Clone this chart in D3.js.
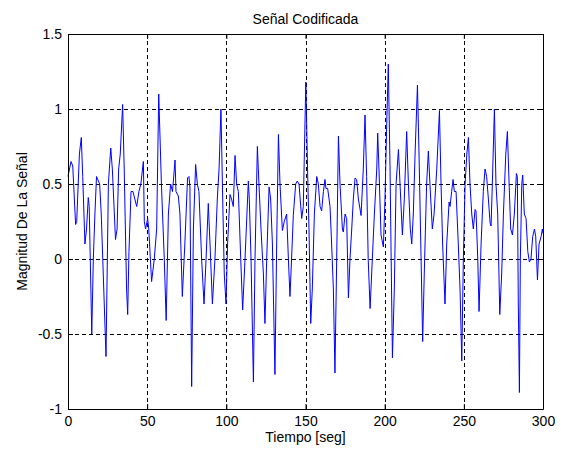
<!DOCTYPE html>
<html>
<head>
<meta charset="utf-8">
<script src="https://cdn.jsdelivr.net/npm/d3@7"></script>
<style>
  body { margin: 0; background: #fff; }
  text { font-family: "Liberation Sans", Arial, sans-serif; }
</style>
</head>
<body>
<div id="chart"></div>
<script>
// readings (time in seg, magnitude)
const tiempo = [0, 1.9, 3, 4.8, 5.5, 7.2, 8.4, 9.3, 10.7, 11.7, 12.8, 13.4, 15, 16, 17, 18, 20, 21, 24, 25.5, 27, 28, 30, 31, 32, 33, 34.5,
  35.5, 37, 37.7, 38.5, 39.8, 41, 43.4, 44.8, 46, 47.6, 48.2, 49, 50.3, 51, 52.8, 54.5, 56, 57.3, 59, 60.8, 62, 63.4, 64.8, 66, 67.6,
  68.2, 69.7, 70.7, 72.2, 73.8, 75.5, 76.4, 77, 78.1, 79.2, 80.6, 81.7, 82.7, 84.4, 85.9, 87.2, 88.6, 89.7, 91.2, 92.8, 94.3, 95.4,
  96.6, 97.7, 98.7, 99.8, 100.8, 102.3, 103.3, 104.4, 105.5, 106.5, 107.6, 109.1, 110.3, 111.8, 113.9, 114.5, 115.6, 117.1, 118.1,
  119.6, 120.6, 121.9, 123.4, 124.4, 125.5, 127, 128, 129.1, 130.7, 131.8, 132.9, 133.9, 135.4, 136.6, 138.1, 139.2, 140.2, 141.2,
  142.3, 143.8, 144.8, 145.9, 147.6, 148.6, 150.2, 151.3, 152.2, 153.3, 154.3, 155.6, 157.1, 158.1, 159.2, 160.2, 161.3, 162.3,
  162.9, 164, 165.5, 166.5, 167.6, 168.6, 169.7, 170.8, 171.8, 173.3, 173.9, 175, 176, 177.1, 178.1, 179.2, 180.2, 181.3, 182.3,
  183.4, 185.1, 186.5, 187.6, 188.6, 189.6, 190.8, 192.2, 193.5, 195, 195.6, 196.4, 197.7, 199.2, 200.2, 201.3, 202.3, 203.4,
  204.1, 204.9, 206.1, 207.2, 208.7, 209.7, 211.2, 212.4, 213.9, 215, 216.2, 217.1, 218.1, 219.2, 220.7, 221.7, 223, 224, 225,
  226.5, 227.6, 228.6, 230.1, 231.2, 232.9, 234.6, 235.6, 236.6, 238.1, 239.2, 240.7, 241.3, 242.3, 243.2, 244, 245.1, 246.5,
  247.6, 248.7, 249.7, 250.8, 251.9, 252.9, 253.9, 255, 256, 257.1, 257.7, 258.8, 259.6, 260.9, 262.3, 263.4, 264.4, 265.5, 266.6,
  267.2, 268, 269.3, 270.3, 271.4, 272.7, 273.9, 275, 276.5, 277.5, 278.6, 279.6, 280.7, 281.9, 283.2, 283.8, 284.4, 285.1, 285.7,
  286.6, 287.2, 288.2, 289.3, 290.4, 291.4, 292.4, 293.5, 294.6, 295.4, 296.5, 297.5, 298.8, 299.6, 300];
const magnitud = [0.55, 0.65, 0.62, 0.23, 0.25, 0.7, 0.81, 0.55, 0.1, 0.2, 0.41, 0.35, -0.5, 0.0, 0.3, 0.55, 0.5, 0.3, -0.65, 0.5, 0.74,
  0.6, 0.13, 0.2, 0.6, 0.7, 1.03, 0.6, -0.2, -0.37, 0.05, 0.45, 0.45, 0.35, 0.45, 0.5, 0.65, 0.25, 0.2, 0.27, 0.2, -0.15, 0.0, 0.2,
  1.1, 0.5, 0.0, -0.41, 0.3, 0.5, 0.45, 0.66, 0.45, 0.42, 0.3, -0.25, 0.1, 0.54, 0.55, 0.48, -0.85, 0.2, 0.63, 0.5, 0.45, 0.0, -0.3,
  0.0, 0.37, 0.1, -0.3, 0.0, 0.4, 0.6, 1.0, 0.4, -0.1, -0.3, 0.1, 0.43, 0.4, 0.35, 0.69, 0.5, 0.45, 0.0, -0.34, 0.0, 0.52, 0.4, 0.0,
  -0.82, 0.0, 0.75, 0.5, 0.2, -0.1, -0.43, 0.0, 0.48, 0.4, 0.1, -0.77, 0.1, 0.83, 0.5, 0.19, 0.25, 0.3, 0.0, -0.25, 0.0, 0.29, 0.5,
  0.52, 0.5, 0.27, 0.35, 1.18, 0.6, 0.2, -0.43, -0.2, 0.3, 0.55, 0.5, 0.35, 0.32, 0.45, 0.53, 0.47, 0.47, 0.35, 0.1, -0.2, -0.76,
  0.0, 0.82, 0.5, 0.2, 0.18, 0.3, 0.27, -0.26, 0.0, 0.2, 0.4, 0.54, 0.53, 0.4, 0.29, 0.6, 0.96, 0.55, 0.0, -0.33, 0.0, 0.3, 0.6,
  0.84, 0.6, 0.16, 0.08, 0.4, 0.9, 1.3, 0.6, 0.0, -0.66, -0.2, 0.5, 0.73, 0.5, 0.16, 0.4, 0.85, 0.5, 0.2, 0.1, 0.3, 0.7, 1.16, 0.7,
  0.0, -0.55, -0.1, 0.5, 0.72, 0.5, 0.2, 0.3, 0.6, 0.99, 0.5, 0.1, -0.3, 0.1, 0.38, 0.35, 0.45, 0.53, 0.45, 0.45, 0.1, -0.2, -0.68,
  0.0, 0.5, 0.7, 0.81, 0.5, 0.3, 0.2, 0.33, 0.32, 0.0, -0.35, 0.1, 0.45, 0.6, 0.55, 0.4, 0.24, 0.22, 0.5, 1.0, 0.5, 0.3, -0.37, -0.1,
  0.3, 0.7, 0.85, 0.5, 0.2, 0.16, 0.3, 0.57, 0.55, -0.3, -0.89, 0.0, 0.5, 0.56, 0.3, 0.27, 0.05, -0.02, 0.0, 0.15, 0.2, 0.15, -0.14,
  0.1, 0.15, 0.2, 0.17];

const xTicks = [0, 50, 100, 150, 200, 250, 300];
const yTicks = [-1, -0.5, 0, 0.5, 1, 1.5];

const W = 561, H = 449;
const margin = {top: 34, right: 18, bottom: 40, left: 68};
const width = W - margin.left - margin.right,
      height = H - margin.top - margin.bottom;
const fs = 14;

const svg = d3.select("#chart").append("svg")
    .attr("width", W)
    .attr("height", H)
    .style("display", "block");

const g = svg.append("g")
    .attr("transform", `translate(${margin.left},${margin.top})`);

const x = d3.scaleLinear().domain([0, 300]).range([0, width]);
const y = d3.scaleLinear().domain([-1, 1.5]).range([height, 0]);

// dashed grid
g.append("g").selectAll("line")
  .data(xTicks.slice(1, -1))
  .join("line")
    .attr("x1", d => Math.round(x(d)) + 0.5).attr("x2", d => Math.round(x(d)) + 0.5)
    .attr("y1", 0).attr("y2", height)
    .attr("stroke", "#000").attr("stroke-dasharray", "4,3");
g.append("g").selectAll("line")
  .data(yTicks.slice(1, -1))
  .join("line")
    .attr("y1", d => Math.round(y(d)) + 0.5).attr("y2", d => Math.round(y(d)) + 0.5)
    .attr("x1", 0).attr("x2", width)
    .attr("stroke", "#000").attr("stroke-dasharray", "4,3");

// signal
const line = d3.line()
    .x((d, i) => x(tiempo[i]))
    .y(d => y(d));
g.append("path")
    .datum(magnitud)
    .attr("fill", "none")
    .attr("stroke", "#0000ff")
    .attr("stroke-width", 1)
    .attr("d", line);

// axes, ticks pointing inward
const fmt = d => String(d);
const axB = g.append("g").attr("transform", `translate(0,${height})`)
    .call(d3.axisBottom(x).tickValues(xTicks).tickFormat(fmt).tickSizeInner(-5).tickSizeOuter(0).tickPadding(7));
const axT = g.append("g")
    .call(d3.axisTop(x).tickValues(xTicks).tickFormat("").tickSizeInner(-5).tickSizeOuter(0));
const axL = g.append("g")
    .call(d3.axisLeft(y).tickValues(yTicks).tickFormat(fmt).tickSizeInner(-5).tickSizeOuter(0).tickPadding(6));
const axR = g.append("g").attr("transform", `translate(${width},0)`)
    .call(d3.axisRight(y).tickValues(yTicks).tickFormat("").tickSizeInner(-5).tickSizeOuter(0));

[axB, axT, axL, axR].forEach(a => {
  a.selectAll("text").attr("font-size", fs).attr("fill", "#000")
    .style("font-family", '"Liberation Sans", Arial, sans-serif');
  a.selectAll("line").attr("stroke", "#000");
  a.select(".domain").attr("stroke", "#000");
});

// titles
svg.append("text")
    .attr("x", margin.left + width / 2).attr("y", 24)
    .attr("text-anchor", "middle").attr("font-size", fs)
    .text("Señal Codificada");
svg.append("text")
    .attr("x", margin.left + width / 2).attr("y", 442)
    .attr("text-anchor", "middle").attr("font-size", fs)
    .text("Tiempo [seg]");
svg.append("text")
    .attr("transform", `translate(27,${margin.top + height / 2}) rotate(-90)`)
    .attr("text-anchor", "middle").attr("font-size", fs)
    .text("Magnitud De La Señal");
</script>
</body>
</html>
